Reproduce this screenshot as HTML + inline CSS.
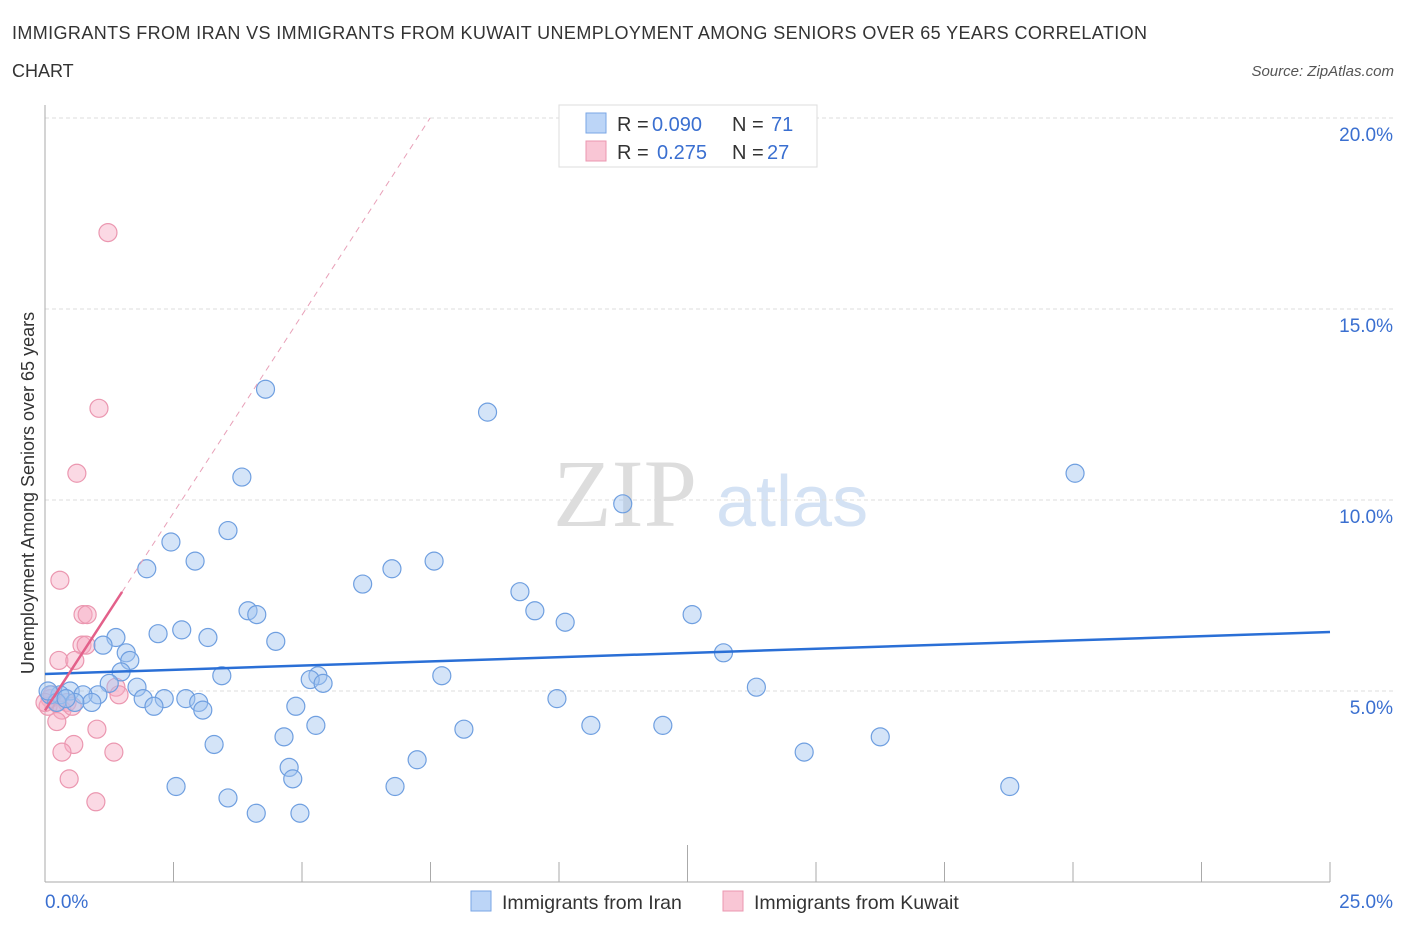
<!DOCTYPE html>
<html><head><meta charset="utf-8"><style>
body{margin:0;background:#fff;font-family:"Liberation Sans",sans-serif;}
svg{display:block}
</style></head><body>
<svg id="chart" width="1406" height="930" xmlns="http://www.w3.org/2000/svg">
<text x="12" y="39" font-size="18" fill="#333" textLength="1135" lengthAdjust="spacing">IMMIGRANTS FROM IRAN VS IMMIGRANTS FROM KUWAIT UNEMPLOYMENT AMONG SENIORS OVER 65 YEARS CORRELATION</text>
<text x="12" y="77" font-size="18" fill="#333">CHART</text>
<text x="1394" y="76" font-size="15" fill="#555" font-style="italic" text-anchor="end">Source: ZipAtlas.com</text>
<text x="553" y="526" font-size="96" fill="#ddd" font-family="Liberation Serif,serif">ZIP</text>
<text x="716" y="526" font-size="72" fill="#d4e2f4">atlas</text>
<g id="grid"></g>
<g id="axes"></g>
<g id="marks"></g>
<text transform="translate(34,493) rotate(-90)" font-size="18" fill="#333" text-anchor="middle">Unemployment Among Seniors over 65 years</text>
<g>
<rect x="559" y="105" width="258" height="62" fill="#fff" stroke="#ddd"/>
<rect x="586" y="113" width="20" height="20" fill="#bcd5f7" stroke="#7aa6e6"/>
<rect x="586" y="141" width="20" height="20" fill="#f9c6d5" stroke="#eb97b0"/>
<text x="617" y="131" font-size="20" fill="#333">R =</text>
<text x="652" y="131" font-size="20" fill="#3a6fd0">0.090</text>
<text x="732" y="131" font-size="20" fill="#333">N =</text>
<text x="771" y="131" font-size="20" fill="#3a6fd0">71</text>
<text x="617" y="159" font-size="20" fill="#333">R =</text>
<text x="657" y="159" font-size="20" fill="#3a6fd0">0.275</text>
<text x="732" y="159" font-size="20" fill="#333">N =</text>
<text x="767" y="159" font-size="20" fill="#3a6fd0">27</text>
</g>
<g>
<rect x="471" y="891" width="20" height="20" fill="#bcd5f7" stroke="#7aa6e6"/>
<text x="502" y="909" font-size="19.5" fill="#333">Immigrants from Iran</text>
<rect x="723" y="891" width="20" height="20" fill="#f9c6d5" stroke="#eb97b0"/>
<text x="754" y="909" font-size="19.5" fill="#333">Immigrants from Kuwait</text>
</g>
</svg>
<script>
const yTicks=[5,10,15,20];
const yTickLabels=["5.0%","10.0%","15.0%","20.0%"];
const xTickLabels=["0.0%","25.0%"];
const iranX=[4.29,8.61,20.04,3.83,11.24,3.56,2.45,2.92,7.57,6.75,1.98,6.18,9.24,3.95,9.53,4.12,10.12,12.59,2.2,2.66,3.17,4.49,1.38,1.13,1.58,1.65,13.2,1.48,3.44,7.72,5.31,5.16,5.41,1.25,1.79,13.84,1.03,0.49,9.96,2.74,2.32,1.91,2.99,2.12,3.07,4.88,0.74,0.91,0.29,0.1,0.23,0.58,5.27,8.15,10.62,12.02,3.29,4.65,16.25,14.77,7.24,4.75,4.82,2.55,6.81,18.77,3.56,4.11,4.96,0.41,0.06];
const iranY=[12.9,12.3,10.7,10.6,9.9,9.2,8.9,8.4,8.4,8.2,8.2,7.8,7.6,7.1,7.1,7.0,6.8,7.0,6.5,6.6,6.4,6.3,6.4,6.2,6.0,5.8,6.0,5.5,5.4,5.4,5.4,5.3,5.2,5.2,5.1,5.1,4.9,5.0,4.8,4.8,4.8,4.8,4.7,4.6,4.5,4.6,4.9,4.7,4.9,4.9,4.7,4.7,4.1,4.0,4.1,4.1,3.6,3.8,3.8,3.4,3.2,3.0,2.7,2.5,2.5,2.5,2.2,1.8,1.8,4.8,5.0];
const kuwaitX=[1.225,1.05,0.62,0.29,0.74,0.82,0.72,0.8,0.27,0.58,1.38,1.44,0.21,0.43,0.1,0.06,0.33,0.53,0.23,1.01,0.56,0.33,1.34,0.47,0.99,0.14,0.0];
const kuwaitY=[17.0,12.4,10.7,7.9,7.0,7.0,6.2,6.2,5.8,5.8,5.1,4.9,4.7,4.7,4.8,4.6,4.5,4.6,4.2,4.0,3.6,3.4,3.4,2.7,2.1,4.9,4.7];
const iranTrend=[5.445,6.545];
const kuwaitTrendStart=4.49, kuwaitSlope=2.07, kuwaitSolidEnd=1.5;

const NS="http://www.w3.org/2000/svg";
const X0=45,X1=1330,YB=882,PX=191/5;
const xs=v=>X0+v/25*(X1-X0), ys=v=>YB-v*PX;
function mk(tag,attrs,parent){const e=document.createElementNS(NS,tag);for(const k in attrs)e.setAttribute(k,attrs[k]);document.getElementById(parent).appendChild(e);return e;}
yTicks.forEach((t,i)=>{
 const l=mk('line',{x1:X0,x2:1394,y1:ys(t),y2:ys(t),stroke:'#ddd','stroke-dasharray':'4,3'},'grid');
 
 
 const tx=mk('text',{x:1393,y:ys(t)+23,'font-size':19,fill:'#3a6fd0','text-anchor':'end'},'grid');
 tx.textContent=yTickLabels[i];
 
 
});
const ya=mk('line',{x1:X0,x2:X0,y1:105,y2:YB,stroke:'#aaa'},'axes');


const xa=mk('line',{x1:X0,x2:X1,y1:YB,y2:YB,stroke:'#aaa'},'axes');


for(let i=0;i<=10;i++){
 const v=i*2.5;
 const tk=mk('line',{x1:xs(v),x2:xs(v),y1:i==5?845:862,y2:YB,stroke:'#aaa'},'axes');
 
 
}
const xl0=mk('text',{x:45,y:908,'font-size':19,fill:'#3a6fd0'},'axes');xl0.textContent=xTickLabels[0];


const xl1=mk('text',{x:1393,y:908,'font-size':19,fill:'#3a6fd0','text-anchor':'end'},'axes');xl1.textContent=xTickLabels[1];



kuwaitX.forEach((x,i)=>{
 const c=mk('circle',{cx:xs(x),cy:ys(kuwaitY[i]),r:9,fill:'rgba(247,170,195,0.45)',stroke:'#eb97b0','stroke-width':1.2},'marks');
 
 
});
iranX.forEach((x,i)=>{
 const c=mk('circle',{cx:xs(x),cy:ys(iranY[i]),r:9,fill:'rgba(160,195,240,0.45)',stroke:'#6f9fe0','stroke-width':1.2},'marks');
 
 
});
const bt=mk('line',{x1:xs(0),x2:xs(25),y1:ys(iranTrend[0]),y2:ys(iranTrend[1]),stroke:'#2a6fd6','stroke-width':2.5},'marks');


const xEnd=(20-kuwaitTrendStart)/kuwaitSlope;
const kd=mk('line',{x1:xs(kuwaitSolidEnd),x2:xs(xEnd),y1:ys(kuwaitTrendStart+kuwaitSlope*kuwaitSolidEnd),y2:ys(20),stroke:'#e8a0b8','stroke-width':1,'stroke-dasharray':'6,5'},'marks');


const ks=mk('line',{x1:xs(0),x2:xs(kuwaitSolidEnd),y1:ys(kuwaitTrendStart),y2:ys(kuwaitTrendStart+kuwaitSlope*kuwaitSolidEnd),stroke:'#e3608a','stroke-width':2.5},'marks');


</script>
</body></html>
